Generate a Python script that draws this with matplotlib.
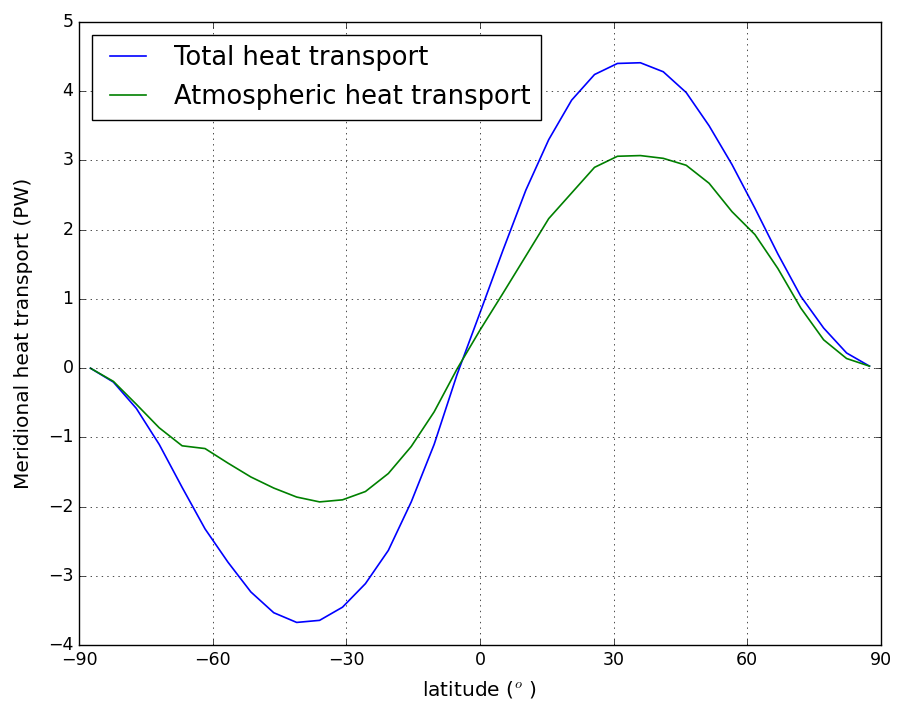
import numpy as np
import matplotlib
matplotlib.use("Agg")
import matplotlib.pyplot as plt

plt.style.use('classic')

# latitude cell centres (35 points)
lat = np.array([-87.43, -82.29, -77.14, -72.0, -66.86, -61.71, -56.57, -51.43, -46.29,
                -41.14, -36.0, -30.86, -25.71, -20.57, -15.43, -10.29, -5.14, 0.0,
                5.14, 10.29, 15.43, 20.57, 25.71, 30.86, 36.0, 41.14, 46.29, 51.43,
                56.57, 61.71, 66.86, 72.0, 77.14, 82.29, 87.43])

total = [0.0, -0.20, -0.58, -1.10, -1.72, -2.32, -2.80, -3.23, -3.53,
         -3.67, -3.64, -3.45, -3.11, -2.63, -1.93, -1.10, -0.09, 0.80,
         1.70, 2.57, 3.30, 3.87, 4.24, 4.40, 4.41, 4.28, 3.98, 3.50,
         2.94, 2.31, 1.65, 1.04, 0.58, 0.22, 0.03]

atmos = [0.0, -0.19, -0.52, -0.86, -1.12, -1.16, -1.37, -1.57, -1.73,
         -1.86, -1.93, -1.90, -1.78, -1.52, -1.13, -0.63, -0.01, 0.55,
         1.08, 1.62, 2.16, 2.53, 2.90, 3.06, 3.07, 3.03, 2.93, 2.67,
         2.26, 1.93, 1.44, 0.87, 0.41, 0.14, 0.03]

fig = plt.figure(figsize=(8.98, 7.06), dpi=100)
fig.patch.set_facecolor('white')
ax = fig.add_axes([0.088, 0.086, 0.893, 0.883])
ax.plot(lat, total, 'b', lw=1.2, label='Total heat transport')
ax.plot(lat, atmos, 'g', lw=1.2, label='Atmospheric heat transport')
ax.set_xlim(-90, 90)
ax.set_ylim(-4, 5)
ax.set_xticks(np.arange(-90, 91, 30))
ax.tick_params(labelsize=12.5)
ax.grid(True)
ax.legend(loc='upper left', fontsize=18.5)
ax.set_xlabel('latitude ($^o$ )', fontsize=14.5, labelpad=7)
ax.set_ylabel('Meridional heat transport (PW)', fontsize=14.5, labelpad=11)

fig.savefig('out.png', dpi=100, facecolor='white')
